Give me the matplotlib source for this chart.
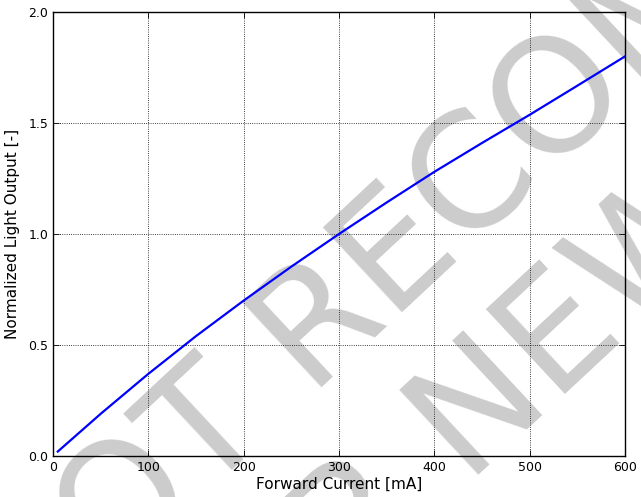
import matplotlib
matplotlib.use("Agg")
import matplotlib.pyplot as plt

current_mA = [5, 50, 100, 150, 200, 250, 300, 350, 400, 450, 500, 550, 600]
light_output = [0.02, 0.19, 0.37, 0.54, 0.70, 0.853, 1.0, 1.142, 1.28, 1.41, 1.537, 1.668, 1.80]
x_ticks = [0, 100, 200, 300, 400, 500, 600]
y_ticks = [0.0, 0.5, 1.0, 1.5, 2.0]

fig = plt.figure(figsize=(6.41, 4.97), dpi=100)
ax = fig.add_axes([53/641, 41/497, (625-53)/641, (456-12)/497])
ax.patch.set_alpha(0)

# watermark behind the axes content
wm_kw = dict(fontsize=114, color='#cccccc', rotation=43, rotation_mode='anchor',
             ha='left', va='baseline', zorder=-5, family='DejaVu Sans')
fig.text(0.040, -0.335, "NOT RECOMMENDED", transform=fig.transFigure, **wm_kw)
fig.text(0.300, -0.492, "FOR NEW DESIGNS", transform=fig.transFigure, **wm_kw)

ax.plot(current_mA, light_output, color='blue', lw=1.6)
ax.set_xlim(0, 600)
ax.set_ylim(0, 2.0)
ax.set_xticks(x_ticks)
ax.set_yticks(y_ticks)
ax.set_xticklabels([str(v) for v in x_ticks], fontsize=9)
ax.set_yticklabels([f"{v:.1f}" for v in y_ticks], fontsize=9)
ax.tick_params(direction='in', top=True, right=True, length=4, width=0.6)
ax.grid(True, color='black', linestyle=':', linewidth=0.6)
for s in ax.spines.values():
    s.set_linewidth(1.0)
ax.set_xlabel("Forward Current [mA]", fontsize=11, labelpad=2)
ax.set_ylabel("Normalized Light Output [-]", fontsize=11, labelpad=6)

fig.savefig("out.png", dpi=100)
